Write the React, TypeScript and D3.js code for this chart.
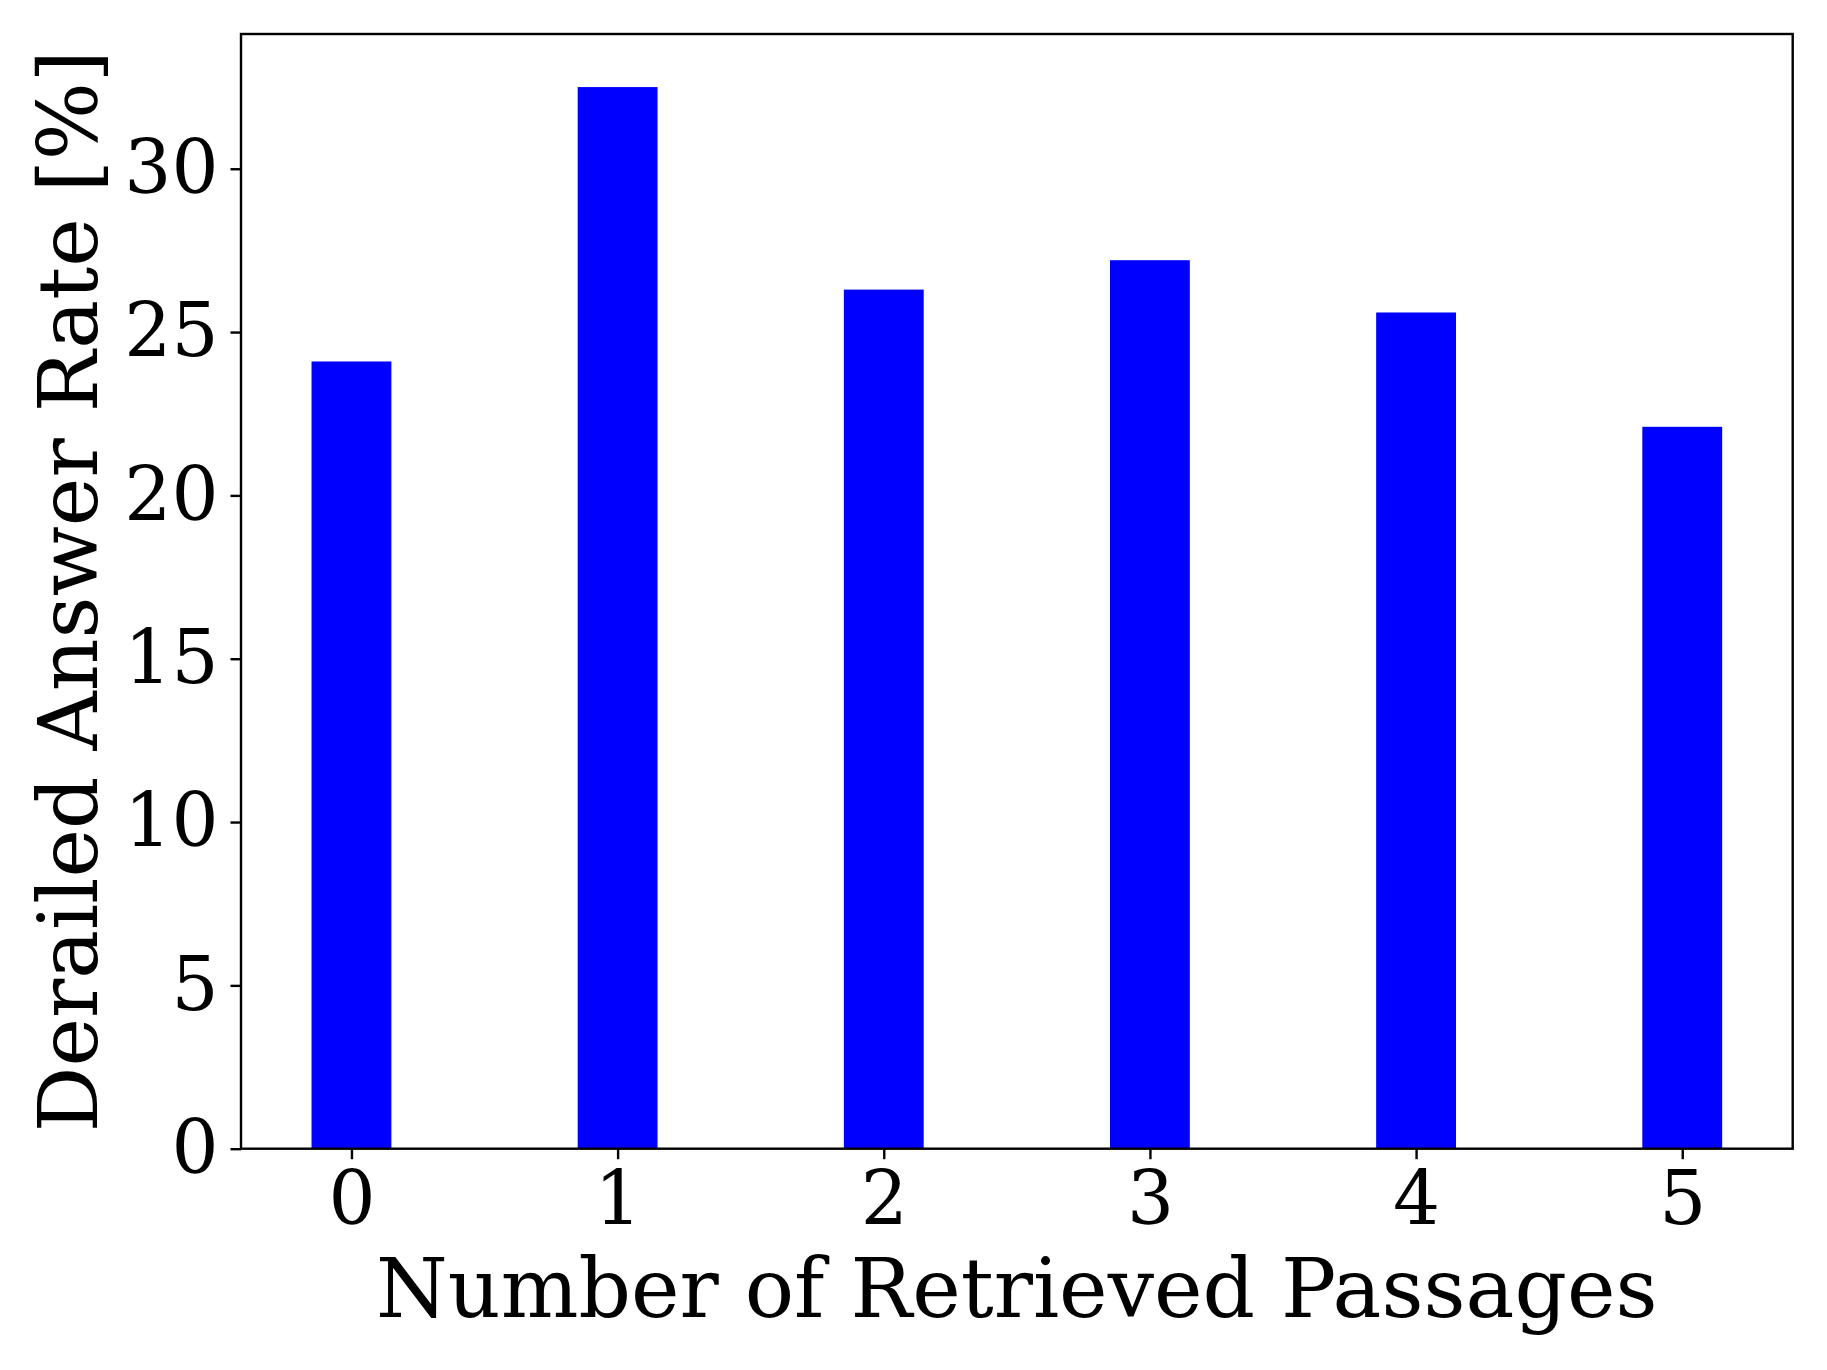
import React, { useEffect, useRef } from 'react';
import * as d3 from 'd3';

// data
const passages = [0, 1, 2, 3, 4, 5];
const derailedRate = [24.1, 32.5, 26.3, 27.2, 25.6, 22.1];
const yTicks = [0, 5, 10, 15, 20, 25, 30];

const App = () => {
    const svgRef = useRef<SVGSVGElement>(null);

    useEffect(() => {
        const svg = d3.select(svgRef.current);
        svg.selectAll('*').remove();

        const width = 1827;
        const height = 1370;
        const margin = { top: 34, right: 34.3, bottom: 221.3, left: 241 };
        const font = "'DejaVu Serif', serif";

        const barW = 0.3;
        // matplotlib-like 5% margins around the bars
        const xMin = -barW / 2;
        const xMax = passages.length - 1 + barW / 2;
        const pad = (xMax - xMin) * 0.05;

        const xScale = d3
            .scaleLinear()
            .domain([xMin - pad, xMax + pad])
            .range([margin.left, width - margin.right]);

        const yMax = d3.max(derailedRate) as number;
        const yScale = d3
            .scaleLinear()
            .domain([0, yMax * 1.05])
            .range([height - margin.bottom, margin.top]);

        // bars
        svg
            .append('g')
            .selectAll('rect')
            .data(passages)
            .join('rect')
            .attr('x', (d) => xScale(d - barW / 2))
            .attr('y', (d, i) => yScale(derailedRate[i]))
            .attr('width', (d) => xScale(d + barW / 2) - xScale(d - barW / 2))
            .attr('height', (d, i) => yScale(0) - yScale(derailedRate[i]))
            .attr('fill', '#0000ff');

        // x axis
        const xAxis = d3
            .axisBottom(xScale)
            .tickValues(passages)
            .tickFormat(d3.format('d'))
            .tickSize(10.5)
            .tickPadding(12)
            .tickSizeOuter(0);

        const gx = svg
            .append('g')
            .attr('transform', `translate(0,${height - margin.bottom})`)
            .call(xAxis);
        gx.select('.domain').remove();
        gx.selectAll('line').attr('stroke', '#000').attr('stroke-width', 2.4);
        gx.selectAll('text')
            .attr('font-family', font)
            .attr('font-size', 74)
            .attr('fill', '#000');

        // y axis
        const yAxis = d3
            .axisLeft(yScale)
            .tickValues(yTicks)
            .tickSize(10.5)
            .tickPadding(12)
            .tickSizeOuter(0);

        const gy = svg
            .append('g')
            .attr('transform', `translate(${margin.left},0)`)
            .call(yAxis);
        gy.select('.domain').remove();
        gy.selectAll('line').attr('stroke', '#000').attr('stroke-width', 2.4);
        gy.selectAll('text')
            .attr('font-family', font)
            .attr('font-size', 74)
            .attr('fill', '#000');

        // frame
        svg
            .append('rect')
            .attr('x', margin.left)
            .attr('y', margin.top)
            .attr('width', width - margin.left - margin.right)
            .attr('height', height - margin.top - margin.bottom)
            .attr('fill', 'none')
            .attr('stroke', '#000')
            .attr('stroke-width', 2.4);

        // axis labels
        svg
            .append('text')
            .attr('x', (margin.left + width - margin.right) / 2)
            .attr('y', 1317)
            .attr('text-anchor', 'middle')
            .attr('font-family', font)
            .attr('font-size', 82)
            .attr('fill', '#000')
            .text('Number of Retrieved Passages');

        svg
            .append('text')
            .attr('transform', `translate(97,${(margin.top + height - margin.bottom) / 2}) rotate(-90)`)
            .attr('text-anchor', 'middle')
            .attr('font-family', font)
            .attr('font-size', 82)
            .attr('fill', '#000')
            .text('Derailed Answer Rate [%]');
    }, []);

    return (
        <svg
            ref={svgRef}
            width={1827}
            height={1370}
            style={{ position: 'absolute', left: 0, top: 0, background: '#fff' }}
        />
    );
};

export default App;
